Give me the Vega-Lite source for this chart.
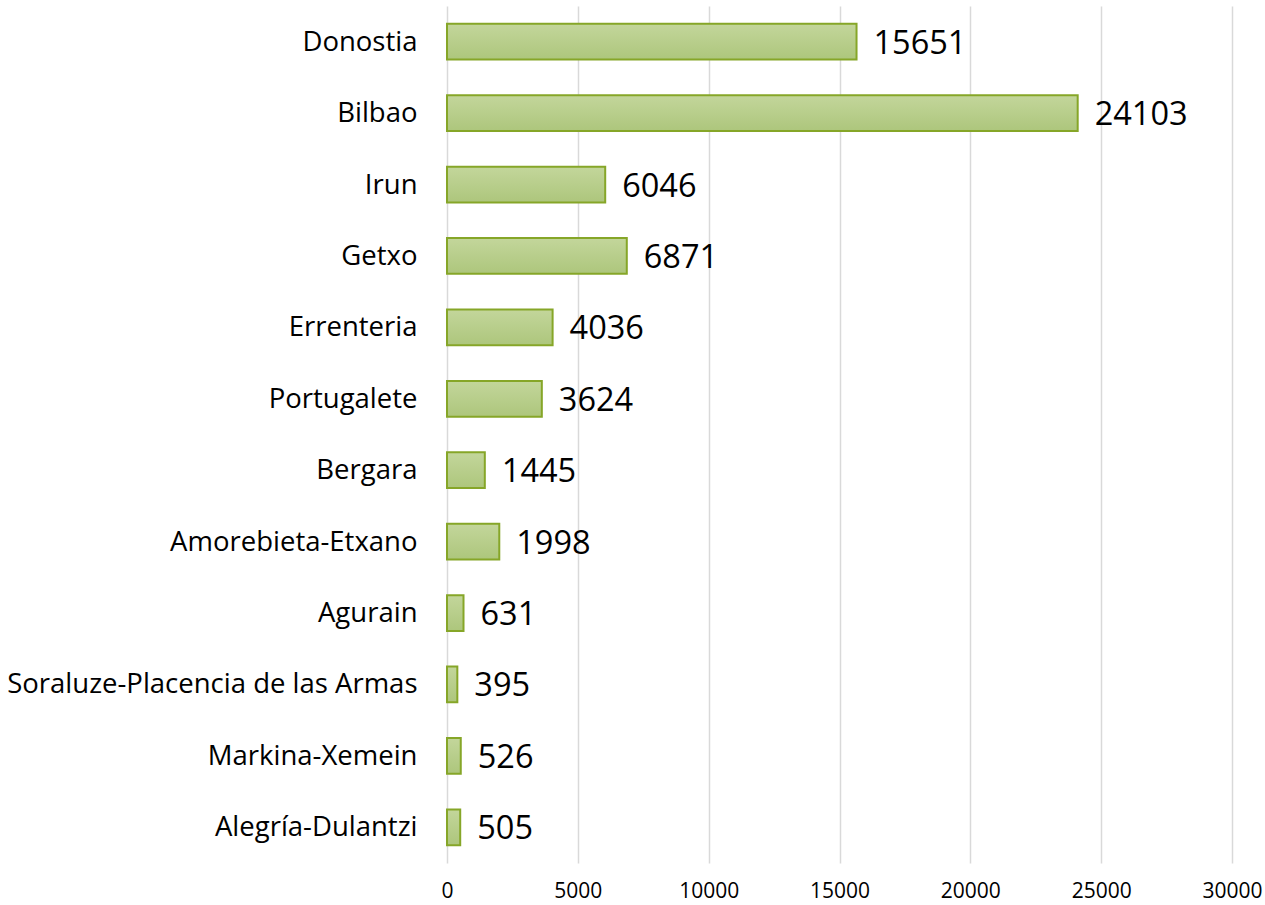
{
  "$schema": "https://vega.github.io/schema/vega-lite/v6.json",
  "width": 785,
  "height": 857,
  "autosize": "none",
  "padding": {"left": 447, "top": 6, "right": 33, "bottom": 42},
  "background": "white",
  "config": {"view": {"stroke": null}},
  "data": {"values": [
    {"city": "Donostia", "value": 15651},
    {"city": "Bilbao", "value": 24103},
    {"city": "Irun", "value": 6046},
    {"city": "Getxo", "value": 6871},
    {"city": "Errenteria", "value": 4036},
    {"city": "Portugalete", "value": 3624},
    {"city": "Bergara", "value": 1445},
    {"city": "Amorebieta-Etxano", "value": 1998},
    {"city": "Agurain", "value": 631},
    {"city": "Soraluze-Placencia de las Armas", "value": 395},
    {"city": "Markina-Xemein", "value": 526},
    {"city": "Alegría-Dulantzi", "value": 505}
  ]},
  "encoding": {
    "y": {"field": "city", "type": "nominal", "sort": null, "title": null,
      "scale": {"paddingInner": 0.5, "paddingOuter": 0.25},
      "axis": {"domain": false, "ticks": false, "labelFont": "Open Sans", "labelFontSize": 27.5, "labelColor": "#000000", "labelPadding": 30, "labelLimit": 500, "labelOffset": 1}},
    "x": {"field": "value", "type": "quantitative", "title": null,
      "scale": {"domain": [0, 30000], "nice": false},
      "axis": {"values": [0, 5000, 10000, 15000, 20000, 25000, 30000], "domain": false, "ticks": false, "grid": true, "gridColor": "#d9d9d9", "gridWidth": 1.5, "labelFont": "Open Sans", "labelFontSize": 21, "labelColor": "#000000", "labelPadding": 17, "format": "d", "labelFlush": false}}
  },
  "layer": [
    {"mark": {"type": "bar", "stroke": "#86a628", "strokeWidth": 2,
      "color": {"gradient": "linear", "x1": 0, "y1": 0, "x2": 0, "y2": 1, "stops": [{"offset": 0, "color": "#c3d69b"}, {"offset": 1, "color": "#adc67c"}]}}},
    {"mark": {"type": "text", "align": "left", "baseline": "middle", "dx": 17, "dy": 2, "font": "Open Sans", "fontSize": 32.5, "color": "#000000"},
      "encoding": {"text": {"field": "value", "type": "quantitative", "format": "d"}}}
  ]
}
